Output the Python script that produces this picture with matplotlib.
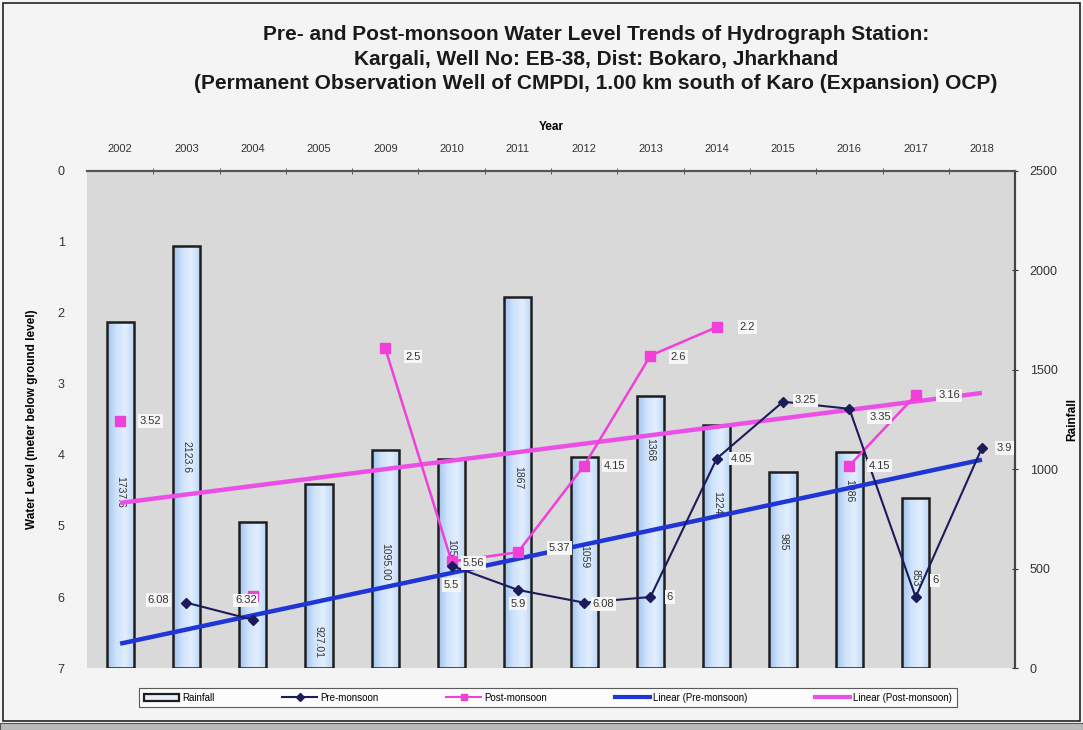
import matplotlib
matplotlib.use("Agg")
import matplotlib.pyplot as plt
import numpy as np
from matplotlib.colors import LinearSegmentedColormap
from matplotlib.lines import Line2D
from matplotlib.patches import Patch, Rectangle

plt.rcParams["font.family"] = ["Liberation Sans", "DejaVu Sans"]

# Data
years = ["2002", "2003", "2004", "2005", "2009", "2010", "2011",
         "2012", "2013", "2014", "2015", "2016", "2017", "2018"]
rainfall = [1737.6, 2123.6, 735, 927.01, 1095.00, 1053, 1867,
            1059, 1368, 1224, 985, 1086, 853, np.nan]
rain_labels = ["1737.6", "2123.6", "", "927.01", "1095.00", "1053", "1867",
               "1059", "1368", "1224", "985", "1086", "853", ""]
pre_monsoon = [np.nan, 6.08, 6.32, np.nan, np.nan, 5.56, 5.9,
               6.08, 6.0, 4.05, 3.25, 3.35, 6.0, 3.9]
post_monsoon = [3.52, np.nan, 5.98, np.nan, 2.5, 5.5, 5.37,
                4.15, 2.6, 2.2, np.nan, 4.15, 3.16, np.nan]

# label placement (rainfall units for bar labels, point offsets for line labels)
rain_label_pos = [885, 1061, 0, 130, 533, 593, 960, 558, 1096, 830, 634, 890, 455, 0]
pre_offsets = [None, (-20, 2), (-5, 14), None, None, (16, 2), (0, -10),
               (14, -1), (14, 0), (18, 0), (16, 1), (22, -6), (14, 12), (16, 0)]
post_offsets = [(22, 0), (-10, 14), None, None, (20, -6), (0, -17), (30, 3),
                (22, 0), (20, -1), (22, 0), None, (22, 0), (24, 0), None]

PRE_COLOR = "#1c1c5c"
POST_COLOR = "#f040d8"
TREND_PRE = "#1f35d6"
TREND_POST = "#ec4fe6"
bar_cmap = LinearSegmentedColormap.from_list(
    "barfill", ["#9fc4ef", "#cfe3fb", "#e2eefd", "#b9d6f6"])

fig = plt.figure(figsize=(10.83, 7.3), dpi=100, facecolor="#f4f4f4")
ax = fig.add_axes([0.0803, 0.0849, 0.857, 0.681])
ax.set_facecolor("#d9d9d9")
ax2 = ax.twinx()

x = np.arange(len(years))

# rainfall bars on secondary axis, with an Excel-like horizontal gradient
bars = ax2.bar(x, rainfall, width=0.41, color="none", edgecolor="#1e1e1e",
               linewidth=1.8, zorder=2)
grad = np.linspace(0, 1, 64).reshape(1, -1)
for rect in bars:
    h = rect.get_height()
    if np.isnan(h):
        continue
    x0 = rect.get_x()
    im = ax2.imshow(grad, cmap=bar_cmap, aspect="auto", zorder=1,
                    extent=(x0, x0 + rect.get_width(), 0, h))
    im.set_clip_path(rect)
for xi, lab, ly in zip(x, rain_labels, rain_label_pos):
    if lab:
        ax2.text(xi, ly, lab, rotation=270, ha="center", va="center",
                 fontsize=7.5, color="#333333", zorder=3)
ax2.set_xlim(-0.5, len(x) - 0.5)
ax2.set_ylim(0, 2500)
ax2.set_yticks(np.arange(0, 2501, 500))
ax2.set_ylabel("Rainfall", fontsize=8.5, fontweight="bold", labelpad=6)
ax2.tick_params(axis="y", labelsize=9, colors="#333333", direction="inout",
                length=5, pad=8)

# water levels on primary axis, drawn above bars
ax.set_zorder(ax2.get_zorder() + 1)
ax.patch.set_visible(False)
fig.patches.append(Rectangle((0.0803, 0.0849), 0.857, 0.681,
                             transform=fig.transFigure, facecolor="#d9d9d9",
                             edgecolor="none", zorder=-10))

pre = np.array(pre_monsoon)
post = np.array(post_monsoon)

# linear trends, fitted like Excel on category index
for vals, col in ((pre, TREND_PRE), (post, TREND_POST)):
    ok = ~np.isnan(vals)
    k, b = np.polyfit(x[ok] + 1, vals[ok], 1)
    ax.plot([x[0], x[-1]], [k * 1 + b, k * len(x) + b], color=col, lw=3.2,
            zorder=3, solid_capstyle="butt")

ax.plot(x, post, color=POST_COLOR, lw=1.8, marker="s", ms=7.5,
        markeredgecolor=POST_COLOR, zorder=4)
ax.plot(x, pre, color=PRE_COLOR, lw=1.5, marker="D", ms=5,
        markeredgecolor=PRE_COLOR, zorder=5)

box = dict(boxstyle="square,pad=0.15", facecolor="#f6f6f6", edgecolor="none")
for vals, offs in ((pre, pre_offsets), (post, post_offsets)):
    for xi, v, off in zip(x, vals, offs):
        if off is None or np.isnan(v):
            continue
        ax.annotate(f"{v:g}", (xi, v), xytext=off, textcoords="offset points",
                    ha="center", va="center", fontsize=8, color="#333333",
                    bbox=box, zorder=6)

ax.set_xlim(-0.5, len(x) - 0.5)
ax.set_ylim(7, 0)
ax.set_yticks(range(0, 8))
ax.set_ylabel("Water Level (meter below ground level)", fontsize=8.5,
              fontweight="bold", labelpad=14)
ax.tick_params(axis="y", length=0, pad=16, labelsize=9, colors="#333333")

ax.xaxis.tick_top()
ax.xaxis.set_label_position("top")
ax.set_xticks(x)
ax.set_xticklabels(years)
ax.set_xticks(np.arange(0.5, len(x) - 0.5), minor=True)
ax.tick_params(axis="x", which="major", length=0, pad=12, labelsize=8,
               colors="#333333")
ax.tick_params(axis="x", which="minor", length=4, direction="inout",
               color="#444444")
ax.set_xlabel("Year", fontsize=8.5, fontweight="bold", labelpad=10)

for a in (ax, ax2):
    a.spines["left"].set_visible(False)
    a.spines["bottom"].set_visible(False)
    a.spines["top"].set_color("#555555")
    a.spines["top"].set_linewidth(1.5)
    a.spines["right"].set_color("#444444")
    a.spines["right"].set_linewidth(1.5)

fig.text(0.55, 0.966,
         "Pre- and Post-monsoon Water Level Trends of Hydrograph Station:\n"
         "Kargali, Well No: EB-38, Dist: Bokaro, Jharkhand\n"
         "(Permanent Observation Well of CMPDI, 1.00 km south of Karo (Expansion) OCP)",
         ha="center", va="top", fontsize=15, fontweight="bold",
         linespacing=1.38, color="#1a1a1a")

handles = [
    Patch(facecolor="#e6eefa", edgecolor="#1e1e1e", linewidth=1.6),
    Line2D([], [], color=PRE_COLOR, lw=1.5, marker="D", ms=4),
    Line2D([], [], color=POST_COLOR, lw=1.5, marker="s", ms=4),
    Line2D([], [], color=TREND_PRE, lw=3),
    Line2D([], [], color=TREND_POST, lw=3),
]
labels = ["Rainfall", "Pre-monsoon", "Post-monsoon", "Linear (Pre-monsoon)",
          "Linear (Post-monsoon)"]
leg = fig.legend(handles, labels, loc="center", bbox_to_anchor=(0.506, 0.0445),
                 ncol=5, fontsize=7, frameon=True, fancybox=False,
                 handlelength=3.6, columnspacing=7.0, borderpad=0.5,
                 handletextpad=0.3, borderaxespad=0)
leg.get_frame().set_edgecolor("#333333")
leg.get_frame().set_facecolor("white")
leg.get_frame().set_linewidth(0.8)

# outer frame of the chart
fig.patches.append(Rectangle((0.003, 0.012), 0.994, 0.984,
                             transform=fig.transFigure, fill=False,
                             edgecolor="#222222", linewidth=1.2))
fig.patches.append(Rectangle((0.0, 0.0), 1.0, 0.01,
                             transform=fig.transFigure, facecolor="#bbbbbb",
                             edgecolor="#555555", linewidth=0.8))

fig.savefig("out.png", dpi=100, facecolor=fig.get_facecolor())
